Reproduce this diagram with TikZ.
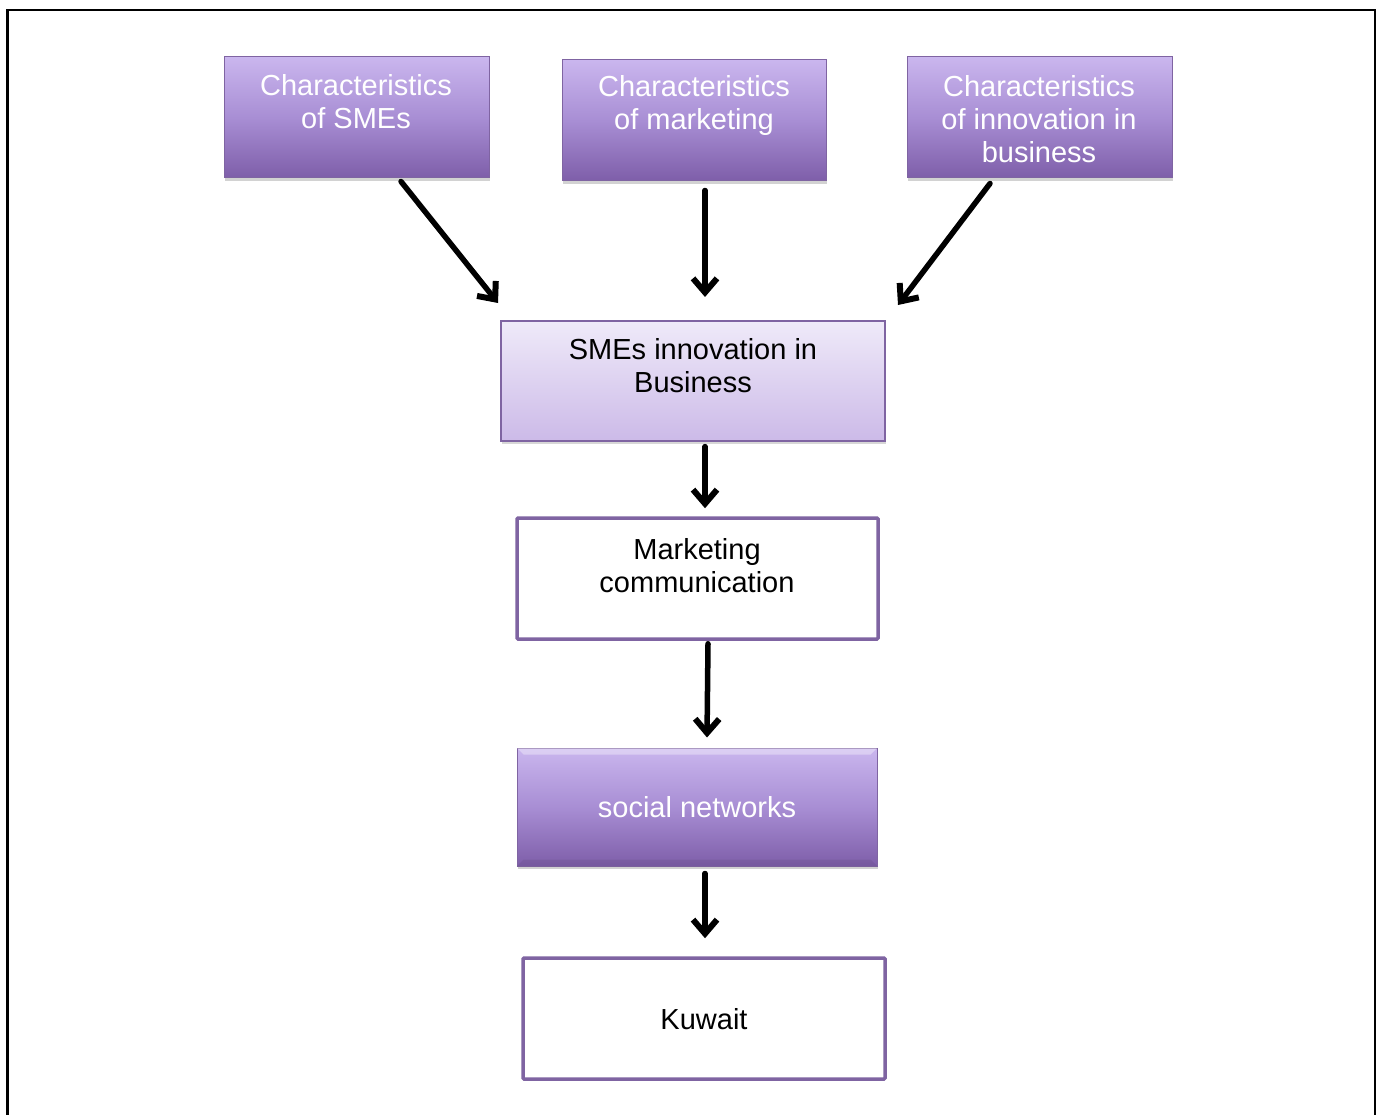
\documentclass[tikz,border=0pt]{standalone}
\usepackage{fontspec}
\setmainfont{Liberation Sans}
\usetikzlibrary{arrows.meta,shadows}
\definecolor{pborder}{HTML}{7F64A2}
\definecolor{ptop}{HTML}{CAB6EE}
\definecolor{pmid}{HTML}{A88ED4}
\definecolor{pbot}{HTML}{7E5EA9}
\definecolor{ltop}{HTML}{EFEAF9}
\definecolor{lbot}{HTML}{CCBAE8}
\tikzset{
  box/.style={rectangle, inner sep=0pt},
  darkbox/.style={box, draw=pborder, line width=1pt,
    top color=ptop, bottom color=pbot, middle color=pmid,
    drop shadow={shadow xshift=1pt, shadow yshift=-3pt, opacity=.25, fill=black!70}},
  lightbox/.style={box, draw=pborder, line width=1.2pt,
    top color=ltop, bottom color=lbot,
    drop shadow={shadow xshift=1pt, shadow yshift=-3pt, opacity=.22, fill=black!70}},
  framebox/.style={box, draw=pborder, line width=3.5pt, fill=white, rounded corners=1pt},
  txt/.style={align=center, inner sep=0pt, font=\fontsize{29}{33}\selectfont},
  wtxt/.style={txt, text=white},
  arr/.style={line width=5.5pt, line cap=round, line join=round,
    -{Straight Barb[length=14pt, width=24pt, line width=6pt]}}
}
\begin{document}
\begin{tikzpicture}[x=1pt, y=-1pt]
\useasboundingbox (0,0) rectangle (1381,1115);
\fill[white] (0,0) rectangle (1381,1115);
% page frame, open at the bottom
\draw[line width=2.5pt, black] (7.5,1120) -- (7.5,10) -- (1375,10) -- (1375,1120);

% top row
\node[darkbox, minimum width=265pt, minimum height=121pt] (b1) at (356.5,117.5) {};
\node[darkbox, minimum width=264pt, minimum height=121pt] (b2) at (694,120.5) {};
\node[darkbox, minimum width=265pt, minimum height=121pt] (b3) at (1039.5,117.5) {};
\node[wtxt] (t1) at (356,102) {Characteristics\\of SMEs};
\node[wtxt] (t2) at (694,105.5) {Characteristics\\of marketing};
\node[wtxt] (t3) at (1039,119) {Characteristics\\of innovation in\\business};

% middle
\node[lightbox, minimum width=384pt, minimum height=120pt] (b4) at (693,381) {};
\node[txt] (t4) at (693,366) {SMEs innovation in\\Business};

\node[framebox, minimum width=361pt, minimum height=121pt] (b5) at (697.5,578.5) {};
\node[txt] (t5) at (697,566) {Marketing\\communication};

\node[darkbox, minimum width=360pt, minimum height=118pt] (b6) at (697,807) {};
% bevel highlight along the upper edge
\fill[white, opacity=.35] (b6.north west) -- (b6.north east) -- ([xshift=-7pt,yshift=-7pt]b6.north east) -- ([xshift=7pt,yshift=-7pt]b6.north west) -- cycle;
\fill[black, opacity=.06] (b6.south west) -- (b6.south east) -- ([xshift=-7pt,yshift=7pt]b6.south east) -- ([xshift=7pt,yshift=7pt]b6.south west) -- cycle;
\node[wtxt] (t6) at (697,807) {social networks};

\node[framebox, minimum width=362pt, minimum height=121pt] (b7) at (704,1018.5) {};
\node[txt] (t7) at (704,1019) {Kuwait};

% connectors
\coordinate (e1) at (498,303);
\coordinate (e2) at (705,297);
\coordinate (e3) at (898,305);
\draw[arr] ([xshift=44.5pt,yshift=-3pt]b1.south) -- (e1);
\draw[arr] ([xshift=11pt,yshift=-9pt]b2.south) -- (e2);
\draw[arr] ([xshift=-49.5pt,yshift=-5pt]b3.south) -- (e3);
\draw[arr] ([xshift=12pt,yshift=-5pt]b4.south) -- ([xshift=7.5pt,yshift=8pt]b5.north);
\draw[arr] ([xshift=10.5pt,yshift=-3pt]b5.south) -- ([xshift=10pt,yshift=10pt]b6.north);
\draw[arr] ([xshift=8pt,yshift=-7pt]b6.south) -- ([xshift=1pt,yshift=18pt]b7.north);
\end{tikzpicture}
\end{document}
